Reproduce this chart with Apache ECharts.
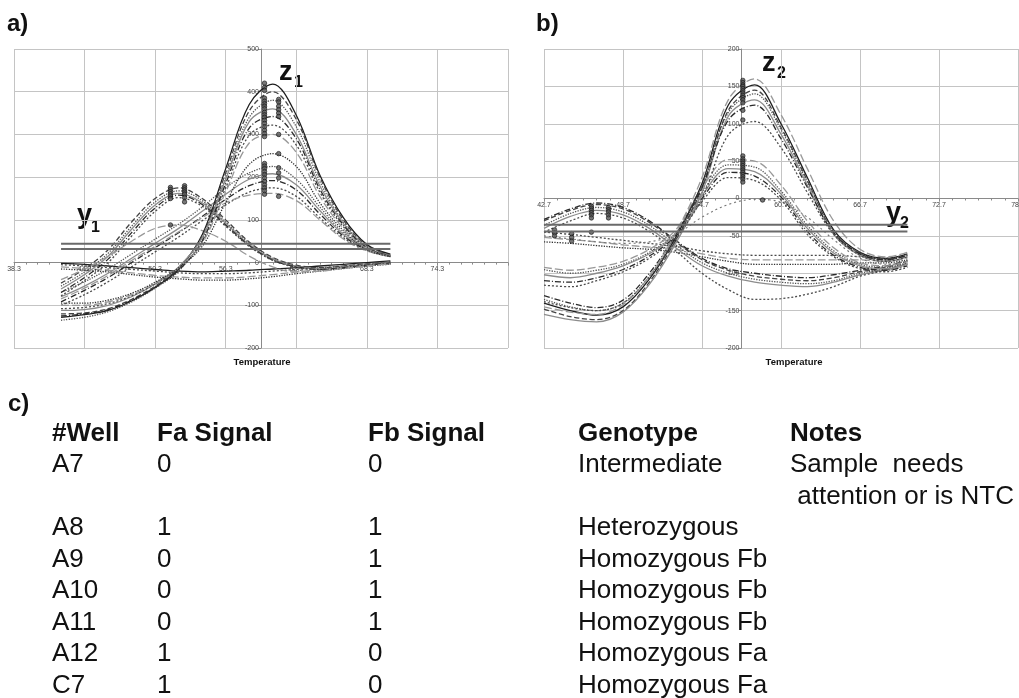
<!DOCTYPE html>
<html>
<head>
<meta charset="utf-8">
<script src="https://cdn.jsdelivr.net/npm/echarts@6/dist/echarts.min.js"></script>
<style>
  html, body { margin: 0; padding: 0; background: #fff; }
  #chart { width: 1019px; height: 698px; }
</style>
</head>
<body>
<div id="chart"></div>
<script>
// ---- panel a : melt curves (temperature vs signal) ----
const tempsA = [42.3, 44.3, 46.3, 48.3, 50.3, 52.3, 54.3, 56.3, 58.3, 60.3, 62.3, 64.3, 66.3, 68.3, 70.3];
const faCurvesA = [
  [-48, -15, 30, 95, 150, 175, 150, 100, 48, 12, -6, -12, -8, -3, 2],
  [-55, -22, 22, 85, 142, 168, 145, 95, 45, 10, -8, -14, -10, -4, 1],
  [-62, -28, 15, 78, 135, 162, 140, 92, 42, 8, -9, -15, -11, -5, 0],
  [-70, -35, 8, 70, 128, 158, 136, 88, 40, 6, -10, -16, -12, -6, -1],
  [-78, -42, 0, 62, 120, 152, 132, 85, 38, 5, -11, -17, -13, -7, -2],
  [-40, -15, 15, 50, 80, 88, 75, 50, 15, -10, -22, -20, -14, -8, -3]
];
const fbHighCurvesA = [
  [-128, -122, -112, -90, -58, -15, 65, 220, 370, 418, 345, 205, 105, 42, 20],
  [-120, -118, -108, -86, -55, -12, 62, 210, 355, 400, 335, 200, 100, 40, 18],
  [-135, -128, -115, -92, -60, -20, 55, 200, 340, 380, 318, 190, 95, 38, 17],
  [-112, -110, -100, -80, -50, -10, 58, 195, 330, 360, 300, 180, 92, 36, 16],
  [-125, -120, -110, -88, -58, -18, 50, 185, 315, 342, 290, 172, 88, 35, 15],
  [-108, -105, -96, -78, -50, -14, 48, 175, 298, 322, 275, 165, 84, 34, 15],
  [-100, -100, -92, -75, -48, -12, 45, 165, 280, 300, 258, 155, 80, 32, 14],
  [-95, -95, -88, -72, -46, -12, 38, 140, 230, 255, 225, 140, 75, 30, 14]
];
const fbMidCurvesA = [
  [-70, -45, -15, 20, 55, 90, 130, 175, 210, 225, 195, 130, 70, 33, 17],
  [-80, -55, -25, 10, 45, 80, 120, 160, 195, 208, 182, 122, 66, 31, 16],
  [-92, -65, -35, 0, 35, 70, 108, 148, 180, 192, 170, 114, 62, 30, 15],
  [-100, -75, -45, -10, 25, 60, 98, 135, 165, 175, 155, 105, 58, 28, 14],
  [-85, -60, -30, 5, 38, 72, 105, 140, 158, 162, 145, 100, 55, 27, 14]
];
const flatCurvesA = [
  [-5, -8, -12, -16, -20, -24, -26, -26, -24, -20, -16, -12, -8, -4, 0],
  [-10, -14, -18, -24, -30, -34, -36, -36, -33, -28, -22, -16, -10, -6, -2],
  [-15, -18, -22, -28, -34, -38, -41, -41, -38, -33, -26, -20, -14, -8, -4],
  [-2, -4, -8, -12, -16, -20, -22, -20, -18, -15, -12, -8, -4, 0, 4]
];
const thresholdsA = [44, 32];
const thresholdSpanA = [42.3, 70.3];
const peakTempA1 = 59.6;
const peakMarksA1 = [420, 410, 403, 385, 378, 372, 366, 360, 352, 346, 340, 333, 326, 318, 310, 302, 295, 232, 226, 220, 213, 206, 198, 190, 182, 175, 168, 160];
const peakTempA2 = 60.8;
const peakMarksA2 = [382, 376, 366, 358, 350, 342, 300, 255, 222, 210, 198, 155];
const faTempA1 = 51.6;
const faMarksA1 = [176, 171, 166, 161, 156, 150, 88];
const faTempA2 = 52.8;
const faMarksA2 = [180, 175, 170, 165, 160, 152, 142];

// ---- panel b ----
const tempsB = [42.7, 44.7, 46.7, 48.7, 50.7, 52.7, 54.7, 56.7, 58.7, 60.7, 62.7, 64.7, 66.7, 68.7, 70.3];
const fbHighCurvesB = [
  [-140, -150, -156, -145, -108, -52, 20, 125, 152, 100, 28, -42, -72, -80, -74],
  [-148, -158, -162, -150, -112, -56, 14, 118, 145, 95, 24, -45, -74, -82, -76],
  [-135, -145, -150, -140, -104, -50, 18, 115, 140, 92, 22, -44, -73, -81, -75],
  [-155, -162, -165, -152, -115, -60, 8, 110, 132, 86, 18, -48, -76, -84, -78],
  [-130, -140, -146, -136, -100, -48, 15, 105, 125, 80, 15, -46, -74, -82, -76],
  [-138, -146, -150, -140, -105, -55, 0, 85, 103, 68, 8, -48, -76, -84, -78],
  [-145, -152, -155, -142, -104, -46, 28, 132, 160, 112, 40, -30, -68, -78, -72]
];
const fbMidCurvesB = [
  [-95, -100, -96, -88, -72, -46, 8, 45, 42, 10, -36, -70, -88, -92, -86],
  [-102, -106, -100, -90, -74, -48, 4, 40, 36, 6, -40, -73, -90, -94, -88],
  [-110, -112, -106, -95, -77, -50, 0, 35, 30, 2, -44, -76, -92, -96, -90],
  [-116, -118, -110, -98, -80, -52, -4, 28, 24, -2, -48, -78, -94, -98, -92],
  [-92, -96, -92, -84, -68, -42, 14, 52, 50, 18, -30, -66, -86, -90, -84]
];
const faCurvesB = [
  [-30, -16, -8, -14, -32, -58, -82, -96, -104, -108, -110, -106, -98, -92, -84],
  [-36, -20, -12, -18, -36, -62, -86, -100, -108, -112, -114, -110, -100, -94, -86],
  [-40, -24, -16, -22, -40, -66, -90, -104, -112, -116, -118, -112, -102, -95, -87],
  [-28, -14, -6, -12, -30, -56, -80, -94, -100, -104, -106, -102, -96, -90, -83],
  [-45, -30, -20, -26, -44, -70, -100, -122, -135, -134, -128, -118, -104, -96, -88]
];
const lowCurvesB = [
  [-45, -48, -52, -56, -60, -64, -70, -74, -76, -76, -76, -76, -78, -80, -78],
  [-52, -55, -58, -62, -65, -68, -74, -80, -82, -82, -82, -82, -82, -84, -80],
  [-58, -60, -63, -66, -68, -72, -78, -84, -88, -88, -88, -88, -86, -86, -82]
];
const weakCurveB = [-50, -54, -58, -60, -58, -48, -25, -8, -1, -5, -25, -55, -80, -88, -84];
const thresholdsB = [-35, -44];
const thresholdSpanB = [42.7, 70.3];
const peakTempB = 57.8;
const peakMarksB = [158, 155, 152, 150, 147, 144, 141, 138, 135, 132, 128, 118, 105, 57, 53, 50, 47, 44, 41, 38, 35, 32, 29, 26, 22];
const faTempB1 = 46.3;
const faMarksB1 = [-10, -13, -16, -19, -22, -26, -45];
const faTempB2 = 47.6;
const faMarksB2 = [-12, -15, -18, -22, -26];
const leftTempB1 = 43.5;
const leftMarksB1 = [-42, -46, -50];
const leftTempB2 = 44.8;
const leftMarksB2 = [-47, -52, -57];
const weakPeakTempB = 59.3;
const weakPeakMarksB = [-2];

// ---- panel c : table ----
const tableHeader = ['#Well', 'Fa Signal', 'Fb Signal', 'Genotype', 'Notes'];
const wells = ['A7', '', 'A8', 'A9', 'A10', 'A11', 'A12', 'C7'];
const faSignal = ['0', '', '1', '0', '0', '0', '1', '1'];
const fbSignal = ['0', '', '1', '1', '1', '1', '0', '0'];
const genotypes = ['Intermediate', '', 'Heterozygous', 'Homozygous Fb', 'Homozygous Fb', 'Homozygous Fb', 'Homozygous Fa', 'Homozygous Fa'];
const notes = ['Sample  needs', ' attention or is NTC', '', '', '', '', '', ''];

const lineStyles = [
  { color: '#1e1e1e', type: 'solid' },
  { color: '#444', type: 'dashed' },
  { color: '#555', type: 'dotted' },
  { color: '#8c8c8c', type: 'solid' },
  { color: '#2a2a2a', type: [6, 2, 1, 2] },
  { color: '#4a4a4a', type: [2, 2] },
  { color: '#999', type: [8, 3] },
  { color: '#333', type: 'dotted' }
];

const FONT = '"Liberation Sans", Arial, Helvetica, sans-serif';
const series = [];

function addCurves(temps, curves, axis, offset) {
  curves.forEach(function (c, k) {
    const st = lineStyles[(k + offset) % lineStyles.length];
    series.push({
      type: 'line', xAxisIndex: axis, yAxisIndex: axis,
      data: temps.map(function (t, i) { return [t, c[i]]; }),
      smooth: 0.35, showSymbol: false, silent: true,
      lineStyle: { color: st.color, type: st.type, width: 1.3 }
    });
  });
}
function addMarks(temp, ys, axis) {
  series.push({
    type: 'scatter', xAxisIndex: axis, yAxisIndex: axis, silent: true, z: 4,
    data: ys.map(function (y) { return [temp, y]; }),
    symbol: 'circle', symbolSize: 4.5,
    itemStyle: { color: '#555', borderColor: '#111', borderWidth: 0.8 }
  });
}
function addThresholds(span, levels, axis) {
  levels.forEach(function (v) {
    series.push({
      type: 'line', xAxisIndex: axis, yAxisIndex: axis, silent: true, z: 5,
      data: [[span[0], v], [span[1], v]], showSymbol: false,
      lineStyle: { color: '#6a6a6a', width: 2 }
    });
  });
}

addCurves(tempsA, flatCurvesA, 0, 5);
addCurves(tempsA, fbMidCurvesA, 0, 2);
addCurves(tempsA, faCurvesA, 0, 1);
addCurves(tempsA, fbHighCurvesA, 0, 0);
addMarks(peakTempA1, peakMarksA1, 0);
addMarks(peakTempA2, peakMarksA2, 0);
addMarks(faTempA1, faMarksA1, 0);
addMarks(faTempA2, faMarksA2, 0);
addThresholds(thresholdSpanA, thresholdsA, 0);

addCurves(tempsB, lowCurvesB, 1, 5);
addCurves(tempsB, faCurvesB, 1, 1);
addCurves(tempsB, fbMidCurvesB, 1, 2);
addCurves(tempsB, fbHighCurvesB, 1, 0);
series.push({
  type: 'line', xAxisIndex: 1, yAxisIndex: 1, silent: true,
  data: tempsB.map(function (t, i) { return [t, weakCurveB[i]]; }),
  smooth: 0.35, showSymbol: false,
  lineStyle: { color: '#777', type: [2, 3], width: 1.1 }
});
addMarks(peakTempB, peakMarksB, 1);
addMarks(faTempB1, faMarksB1, 1);
addMarks(faTempB2, faMarksB2, 1);
addMarks(leftTempB1, leftMarksB1, 1);
addMarks(leftTempB2, leftMarksB2, 1);
addMarks(weakPeakTempB, weakPeakMarksB, 1);
addThresholds(thresholdSpanB, thresholdsB, 1);

// x axis drawn at signal 0: offset up from the grid bottom
function xAxisOf(gi, min, max, showMax, offset) {
  return {
    type: 'value', gridIndex: gi, min: min, max: max, interval: 6,
    position: 'bottom', offset: offset,
    axisLine: { onZero: false, lineStyle: { color: '#8a8a8a', width: 1 } },
    axisTick: { show: true, length: 3, lineStyle: { color: '#8a8a8a' } },
    minorTick: { show: true, splitNumber: 6, length: 2, lineStyle: { color: '#8a8a8a' } },
    axisLabel: { fontSize: 7, color: '#444', margin: 3, fontFamily: FONT, showMaxLabel: showMax,
      formatter: function (v) { return v.toFixed(1); } },
    splitLine: { show: true, lineStyle: { color: '#c4c4c4', width: 1 } }
  };
}
function yAxisOf(gi, min, max, step, offset) {
  return {
    type: 'value', gridIndex: gi, min: min, max: max, interval: step,
    position: 'left', offset: offset,
    axisLine: { show: true, onZero: false, lineStyle: { color: '#8a8a8a', width: 1 } },
    axisTick: { show: true, length: 3, lineStyle: { color: '#8a8a8a' } },
    axisLabel: { fontSize: 7, color: '#444', margin: 2, fontFamily: FONT },
    splitLine: { show: true, lineStyle: { color: '#c4c4c4', width: 1 } }
  };
}

function txt(x, baseline, str, size, bold, extra) {
  const el = {
    type: 'text', x: x, y: baseline - 0.35 * size, silent: true,
    style: { text: str, font: (bold ? 'bold ' : '') + size + 'px ' + FONT,
      fill: '#111', align: 'left', verticalAlign: 'middle' }
  };
  if (extra) Object.assign(el.style, extra);
  return el;
}

const graphics = [
  txt(7, 33, 'a)', 24, true),
  txt(536, 33, 'b)', 24, true),
  txt(8, 413, 'c)', 24, true),
  txt(262, 366, 'Temperature', 9.5, true, { align: 'center' }),
  txt(794, 366, 'Temperature', 9.5, true, { align: 'center' }),
  txt(77, 225, 'y', 27, true), txt(91, 233, '1', 16, true),
  txt(279, 82, 'z', 27, true), txt(294, 88, '1', 16, true),
  txt(762, 73, 'z', 27, true), txt(777, 79, '2', 16, true),
  txt(886, 223, 'y', 27, true), txt(900, 229, '2', 16, true)
];

const colX = [52, 157, 368, 578, 790];
tableHeader.forEach(function (h, i) { graphics.push(txt(colX[i], 443, h, 26, true)); });
wells.forEach(function (w, r) {
  const b = 474 + r * 31.5;
  graphics.push(txt(colX[0], b, w, 26, false));
  graphics.push(txt(colX[1], b, faSignal[r], 26, false));
  graphics.push(txt(colX[2], b, fbSignal[r], 26, false));
  graphics.push(txt(colX[3], b, genotypes[r], 26, false));
  graphics.push(txt(colX[4], b, notes[r], 26, false));
});

const chart = echarts.init(document.getElementById('chart'), null, { renderer: 'canvas' });
chart.setOption({
  animation: false,
  backgroundColor: '#fff',
  grid: [
    { left: 14, top: 49, width: 494, height: 299, outerBoundsMode: 'none' },
    { left: 544, top: 49, width: 474, height: 299, outerBoundsMode: 'none' }
  ],
  xAxis: [xAxisOf(0, 38.3, 80.3, false, -85.4), xAxisOf(1, 42.7, 78.7, true, -149.5)],
  yAxis: [yAxisOf(0, -200, 500, 100, -247), yAxisOf(1, -200, 200, 50, -197.5)],
  series: series,
  graphic: graphics
});
window.addEventListener('resize', function () { chart.resize(); });
</script>
</body>
</html>
